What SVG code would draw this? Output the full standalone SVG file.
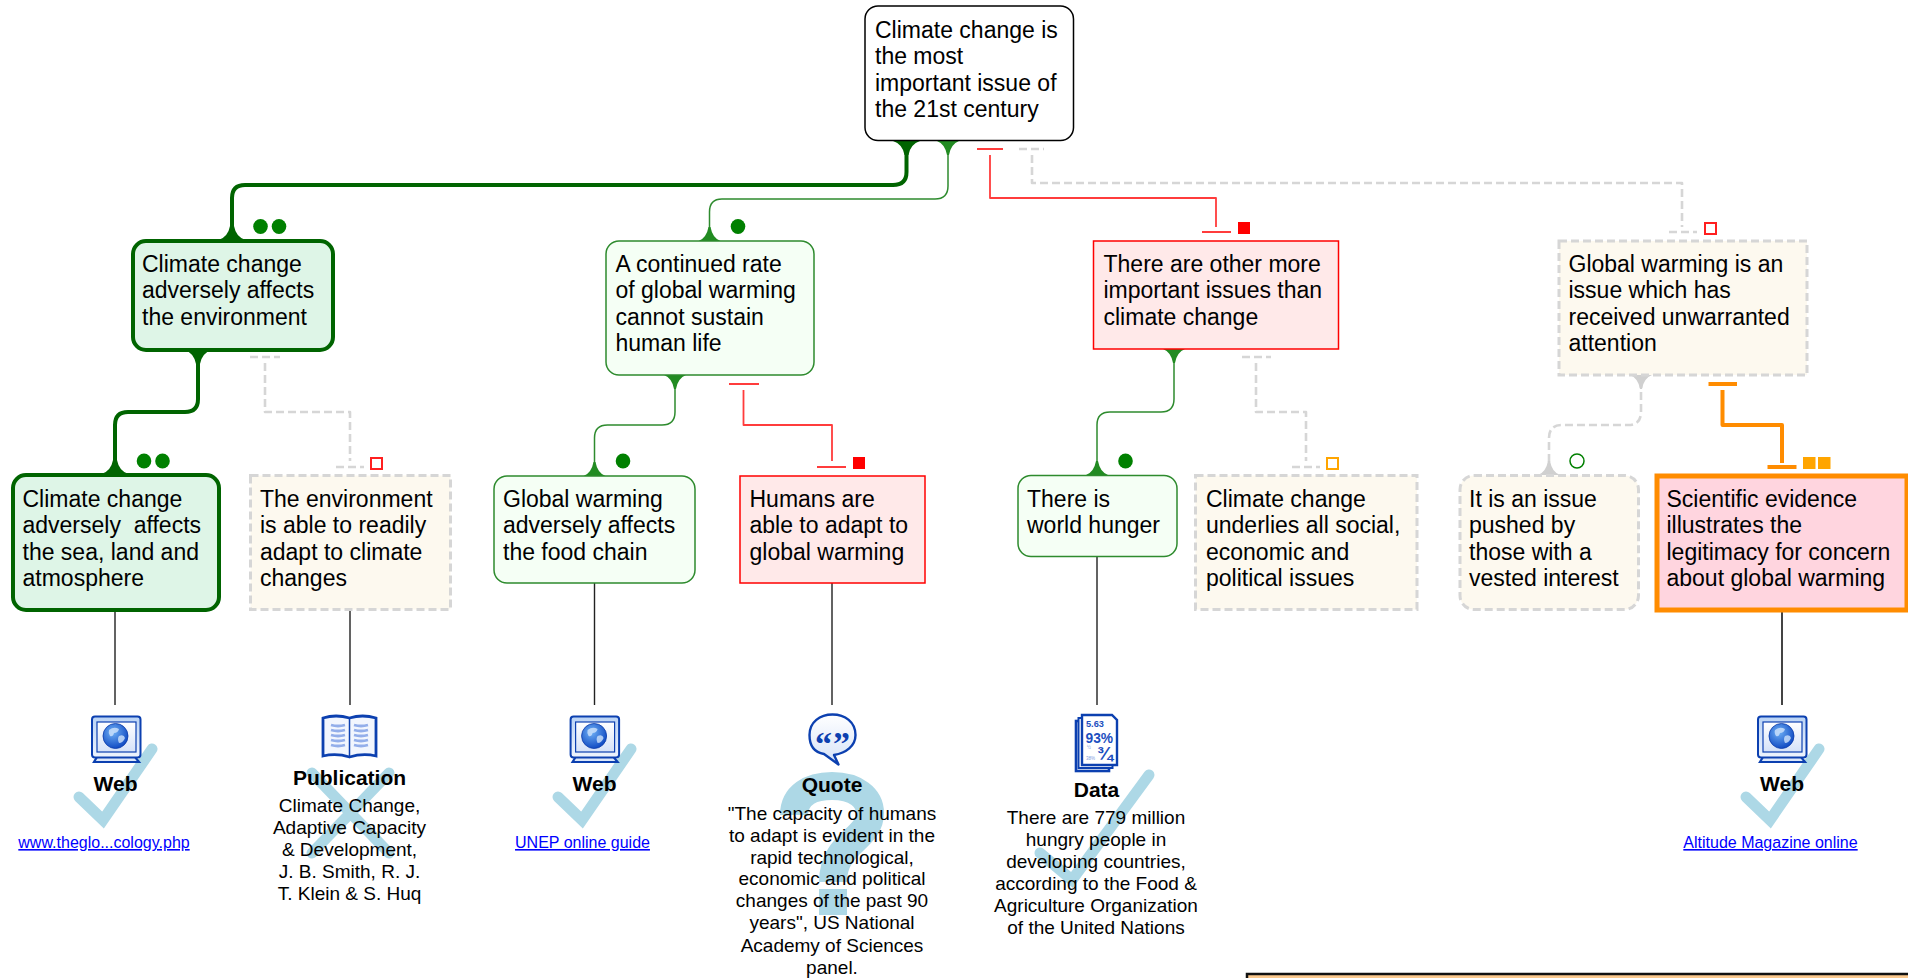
<svg xmlns="http://www.w3.org/2000/svg" width="1908" height="978" viewBox="0 0 1908 978">
<style>
text{font-family:"Liberation Sans",Arial,sans-serif;fill:#000}
.t{font-size:23px}
.b{font-size:21px;font-weight:700;text-anchor:middle}
.e{font-size:19px;text-anchor:middle}
.l{font-size:16px;text-anchor:middle;fill:#00f;text-decoration:underline}
.c{fill:none;stroke-linejoin:round}
.dg{stroke:#006400;stroke-width:4}
.g{stroke:#2e8b2e;stroke-width:1.5}
.r{stroke:#ff3c3c;stroke-width:1.8}
.o{stroke:#ff8c00;stroke-width:4}
.d{stroke:#d6d6d6;stroke-width:2.6;stroke-dasharray:8 4}
.k{stroke:#222;stroke-width:1.4}
.mk{fill:none;stroke:#add8e6;stroke-width:11}
.ic{stroke:#0c40b0;stroke-width:2}
.ff1{fill:#006400}.ff2{fill:#228b22}.ff3{fill:#d0d0d0}
.n1{fill:#def5e7;stroke:#006400;stroke-width:4}
.n2{fill:#f5fff5;stroke:#2e8b2e;stroke-width:1.5}
.n3{fill:#ffe9e9;stroke:#f00;stroke-width:1.5}
.n4{fill:#fdf9ef;stroke:#d6d6d6;stroke-width:3;stroke-dasharray:8 4}
.n5{fill:#ffd5df;stroke:#ff8c00;stroke-width:5}
.q{font-family:"Liberation Serif",serif;font-size:34px;font-weight:700;text-anchor:middle;fill:#0c40b0}
.s{font-weight:700;fill:#1d4fc0}
.v{fill:#7d9ce0}
</style>
<defs>
<path id="fl" d="M-11,0 Q-3,3 -1,14 L1,14 Q3,3 11,0Z"/>
<path id="flb" d="M-13.500,0 Q-4,3 -2,14 L2,14 Q4,3 13.500,0Z"/>
<linearGradient id="gr" x1="0" y1="0" x2="0" y2="1"><stop offset="0" stop-color="#b9d3f5"/><stop offset="1" stop-color="#eef4fd"/></linearGradient>
<linearGradient id="gb" x1="0" y1="0" x2="0" y2="1"><stop offset="0" stop-color="#fff"/><stop offset="1" stop-color="#d5e2f8"/></linearGradient>
<radialGradient id="gl" cx=".4" cy=".35" r=".7"><stop offset="0" stop-color="#6fb0f5"/><stop offset="1" stop-color="#0b45c0"/></radialGradient>
<g id="web">
<path d="M97,757 L135,757 L139,762 L94,762Z" fill="#dbe7fa" stroke="#0c40b0" stroke-width="2.200"/>
<rect x="92" y="716.500" width="48.500" height="41" rx="3" fill="url(#gr)" class="ic"/>
<rect x="97" y="722" width="39" height="30" fill="url(#gb)" stroke="#0c40b0" stroke-width="1.200"/>
<circle cx="115.500" cy="736" r="12.500" fill="url(#gl)" stroke="#0a3aa8" stroke-width=".8"/>
<path d="M109,730 q5,-4 10,-1 q-1,4 -5,4 q-1,4 -4,3 q-2,-3 -1,-6Z M119,736 q5,-2 6,2 q-2,5 -6,5 q-2,-4 0,-7Z" fill="#cfe3fb" opacity=".8"/>
</g>
</defs>

<g id="marks">
<path class="mk" d="M79,797 L103,820 L152,749" stroke-linecap="round"/>
<path class="mk" d="M558,797 L582,820 L631,749" stroke-linecap="round"/>
<path class="mk" d="M1746,797 L1770,820 L1819,749" stroke-linecap="round"/>
<path class="mk" d="M1040,853 L1072,880 L1149,775" stroke-linecap="round"/>
<path class="mk" d="M312,773 L389,853 M389,773 L312,853" stroke-linecap="round"/>
<path class="mk" style="stroke-width:28" d="M794,815 C794,796 810,786 832,786 C856,786 870,798 870,813 C870,840 833,842 833,882"/>
<rect x="819" y="889" width="28" height="26" fill="#add8e6"/>
</g>

<g id="connectors">
<path class="c dg" d="M906.500,150 V172 Q906.500,185 893,185 H245 Q232,185 232,198 V230"/>
<use href="#flb" x="906.500" y="141" class="ff1"/>
<use href="#flb" transform="translate(232,240) scale(1,-1)" class="ff1"/>
<path class="c g" d="M948,150 V186 Q948,199 935,199 H722 Q709.500,199 709.500,212 V232"/>
<use href="#fl" x="948" y="141" class="ff2"/>
<use href="#fl" transform="translate(709.500,241) scale(1,-1)" class="ff2"/>
<path class="c r" d="M977,149 H1003 M990,155 V198 H1216 V227 M1202,232 H1231"/>
<path class="c d" d="M1019,149 H1044 M1032,155 V183 H1682 V227 M1669,232 H1697"/>
<path class="c dg" d="M198,358 V399 Q198,412 185,412 H128 Q115,412 115,425 V464"/>
<use href="#flb" x="198" y="350" class="ff1"/>
<use href="#flb" transform="translate(115,474) scale(1,-1)" class="ff1"/>
<path class="c d" d="M250,357 H280 M265,363 V412 H350 V461 M336,467 H364"/>
<path class="c g" d="M675,380 V412 Q675,425 662,425 H607.500 Q594.500,425 594.500,438 V466"/>
<use href="#fl" x="675" y="375" class="ff2"/>
<use href="#fl" transform="translate(594.500,476) scale(1,-1)" class="ff2"/>
<path class="c r" d="M729,384 H759 M743.500,390 V425 H832 V461 M817,467 H846"/>
<path class="c g" d="M1174,355 V399 Q1174,412 1161,412 H1110 Q1097,412 1097,425 V466"/>
<use href="#fl" x="1174" y="349" class="ff2"/>
<use href="#fl" transform="translate(1097,475) scale(1,-1)" class="ff2"/>
<path class="c d" d="M1242,357 H1271 M1256,363 V412 H1306 V461 M1292,467 H1320"/>
<path class="c d" d="M1641,380 V412 Q1641,425 1628,425 H1562 Q1549,425 1549,438 V466"/>
<use href="#fl" x="1641" y="375" class="ff3"/>
<use href="#fl" transform="translate(1549,475) scale(1,-1)" class="ff3"/>
<path class="c o" d="M1708.500,384 H1737 M1722.500,390 V425 H1782 V463"/>
<path class="c o" d="M1767.500,467 H1796.500"/>
<path class="c k" d="M115,611 V705 M350,610 V705 M594.500,583 V705 M832,583 V705 M1097,556 V705"/>
<path class="c" stroke="#444" stroke-width="2" d="M1782,611 V705"/>
</g>

<g id="badges">
<g fill="#008000">
<ellipse cx="260.500" cy="226.500" rx="7.300" ry="7.500"/><ellipse cx="279" cy="226.500" rx="7.300" ry="7.500"/>
<ellipse cx="738" cy="226.500" rx="7.300" ry="7.500"/>
<ellipse cx="144" cy="461" rx="7.300" ry="7.500"/><ellipse cx="162.500" cy="461" rx="7.300" ry="7.500"/>
<ellipse cx="623" cy="461" rx="7.300" ry="7.500"/>
<ellipse cx="1125.500" cy="461" rx="7.300" ry="7.500"/>
</g>
<circle cx="1577" cy="461" r="7" fill="#fff" stroke="#008000" stroke-width="1.500"/>
<rect x="1238" y="222" width="12" height="12" fill="#f00"/>
<rect x="853" y="457" width="12" height="12" fill="#f00"/>
<rect x="1705" y="223" width="11" height="11" fill="#fff" stroke="#ff2020" stroke-width="2"/>
<rect x="371" y="458" width="11" height="11" fill="#fff" stroke="#ff2020" stroke-width="2"/>
<rect x="1327" y="458" width="11" height="11" fill="#fff" stroke="#ffa500" stroke-width="2"/>
<rect x="1803" y="457" width="12.500" height="12" fill="#ffa500"/>
<rect x="1818" y="457" width="12.500" height="12" fill="#ffa500"/>
</g>

<g id="root"><rect x="865" y="6" width="208.500" height="134.500" rx="13" fill="#fff" stroke="#000" stroke-width="1.500"/>
<text class="t"><tspan x="875" y="37.500">Climate change is</tspan><tspan x="875" y="64">the most</tspan><tspan x="875" y="90.500">important issue of</tspan><tspan x="875" y="117">the 21st century</tspan></text></g>

<g id="n-env"><rect class="n1" x="133" y="241" width="200" height="109" rx="13"/>
<text class="t"><tspan x="142" y="271.500">Climate change</tspan><tspan x="142" y="298">adversely affects</tspan><tspan x="142" y="324.500">the environment</tspan></text></g>

<g id="n-rate"><rect class="n2" x="606" y="241" width="208" height="134" rx="13"/>
<text class="t"><tspan x="615.500" y="271.500">A continued rate</tspan><tspan x="615.500" y="298">of global warming</tspan><tspan x="615.500" y="324.500">cannot sustain</tspan><tspan x="615.500" y="351">human life</tspan></text></g>

<g id="n-other"><rect class="n3" x="1093.500" y="241" width="245" height="108"/>
<text class="t"><tspan x="1103.500" y="271.500">There are other more</tspan><tspan x="1103.500" y="298">important issues than</tspan><tspan x="1103.500" y="324.500">climate change</tspan></text></g>

<g id="n-unwarranted"><rect class="n4" x="1559" y="241" width="248" height="134"/>
<text class="t"><tspan x="1568.500" y="271.500">Global warming is an</tspan><tspan x="1568.500" y="298">issue which has</tspan><tspan x="1568.500" y="324.500">received unwarranted</tspan><tspan x="1568.500" y="351">attention</tspan></text></g>

<g id="n-sea"><rect class="n1" x="13" y="475" width="206" height="135" rx="13"/>
<text class="t" xml:space="preserve"><tspan x="22.500" y="506.500">Climate change</tspan><tspan x="22.500" y="533">adversely  affects</tspan><tspan x="22.500" y="559.500">the sea, land and</tspan><tspan x="22.500" y="586">atmosphere</tspan></text></g>

<g id="n-readily"><rect class="n4" x="250.500" y="475.500" width="200" height="134"/>
<text class="t"><tspan x="260" y="506.500">The environment</tspan><tspan x="260" y="533">is able to readily</tspan><tspan x="260" y="559.500">adapt to climate</tspan><tspan x="260" y="586">changes</tspan></text></g>

<g id="n-food"><rect class="n2" x="494" y="476" width="201" height="107" rx="13"/>
<text class="t"><tspan x="503" y="506.500">Global warming</tspan><tspan x="503" y="533">adversely affects</tspan><tspan x="503" y="559.500">the food chain</tspan></text></g>

<g id="n-humans"><rect class="n3" x="740" y="476" width="185" height="107"/>
<text class="t"><tspan x="749.500" y="506.500">Humans are</tspan><tspan x="749.500" y="533">able to adapt to</tspan><tspan x="749.500" y="559.500">global warming</tspan></text></g>

<g id="n-hunger"><rect class="n2" x="1018" y="475.500" width="159" height="81" rx="13"/>
<text class="t"><tspan x="1027" y="506.500">There is</tspan><tspan x="1027" y="533">world hunger</tspan></text></g>

<g id="n-underlies"><rect class="n4" x="1195.500" y="475.500" width="221.500" height="134"/>
<text class="t"><tspan x="1206" y="506.500">Climate change</tspan><tspan x="1206" y="533">underlies all social,</tspan><tspan x="1206" y="559.500">economic and</tspan><tspan x="1206" y="586">political issues</tspan></text></g>

<g id="n-vested"><rect class="n4" x="1460" y="475.500" width="178.500" height="134" rx="14"/>
<text class="t"><tspan x="1469" y="506.500">It is an issue</tspan><tspan x="1469" y="533">pushed by</tspan><tspan x="1469" y="559.500">those with a</tspan><tspan x="1469" y="586">vested interest</tspan></text></g>

<g id="n-science"><rect class="n5" x="1657" y="476" width="250" height="134"/>
<text class="t"><tspan x="1666.500" y="506.500">Scientific evidence</tspan><tspan x="1666.500" y="533">illustrates the</tspan><tspan x="1666.500" y="559.500">legitimacy for concern</tspan><tspan x="1666.500" y="586">about global warming</tspan></text></g>

<g id="ev-web1"><use href="#web"/>
<text class="b" x="115.500" y="791">Web</text><text class="l" x="104" y="848">www.theglo...cology.php</text></g>

<g id="ev-pub">
<path d="M323,718 q13,-4 26.500,0 q13,-4 26.500,0 v38 q-13,-3 -26.500,1 q-13,-4 -26.500,-1Z" fill="#f2f6fe" stroke="#0c40b0" stroke-width="2.800"/>
<path d="M349.500,718 V757" stroke="#0c40b0" stroke-width="1.500"/>
<path d="M331,725 q7,2 14,0 M331,730 q7,2 14,0 M331,735 q7,2 14,0 M331,740 q7,2 14,0 M331,745 q7,2 14,0 M354,725 q7,2 14,0 M354,730 q7,2 14,0 M354,735 q7,2 14,0 M354,740 q7,2 14,0 M354,745 q7,2 14,0" fill="none" stroke="#93aeea" stroke-width="2.800"/>
<text class="b" x="349.500" y="785">Publication</text>
<text class="e"><tspan x="349.500" y="811.500">Climate Change,</tspan><tspan x="349.500" y="834">Adaptive Capacity</tspan><tspan x="349.500" y="856">&amp; Development,</tspan><tspan x="349.500" y="878">J. B. Smith, R. J.</tspan><tspan x="349.500" y="900">T. Klein &amp; S. Huq</tspan></text></g>

<g id="ev-web2"><use href="#web" x="478.600"/>
<text class="b" x="594.500" y="791">Web</text><text class="l" x="582.500" y="848">UNEP online guide</text></g>

<g id="ev-quote">
<path d="M824,754 C812,752 809.500,743 809.500,735 C809.500,722 820,714.500 832.500,714.500 C845,714.500 855.500,722 855.500,735 C855.500,746 846,753 834,755 L838.500,764.500 Z" fill="url(#gb)" stroke="#0c40b0" stroke-width="2.400" stroke-linejoin="round"/>
<text class="q" x="823.500" y="755">“</text><text class="q" x="841.500" y="755">”</text>
<text class="b" x="832" y="792">Quote</text>
<text class="e"><tspan x="832" y="819.500">"The capacity of humans</tspan><tspan x="832" y="841.500">to adapt is evident in the</tspan><tspan x="832" y="863.500">rapid technological,</tspan><tspan x="832" y="885">economic and political</tspan><tspan x="832" y="907">changes of the past 90</tspan><tspan x="832" y="929">years", US National</tspan><tspan x="832" y="951.500">Academy of Sciences</tspan><tspan x="832" y="973.500">panel.</tspan></text></g>

<g id="ev-data">
<rect x="1076" y="721" width="33" height="50" fill="#fff" stroke="#0c40b0" stroke-width="2.600"/>
<rect x="1078.500" y="718" width="34" height="50" fill="#fff" stroke="#0c40b0" stroke-width="2"/>
<path d="M1082,715 H1112 L1117,720 V765 H1082Z" fill="#fff" stroke="#0c40b0" stroke-width="2.400"/>
<text class="s" x="1086" y="726.500" font-size="9.200">5.63</text>
<text class="s" x="1085.500" y="743" font-size="13.800">93%</text>
<text class="s" x="1097" y="760" font-size="19">¾</text>
<text class="v" x="1087" y="749" font-size="4.500">½</text>
<text class="v" x="1086" y="760" font-size="4.500">38%</text>
<text class="b" x="1096.500" y="797">Data</text>
<text class="e"><tspan x="1096" y="824">There are 779 million</tspan><tspan x="1096" y="846">hungry people in</tspan><tspan x="1096" y="868">developing countries,</tspan><tspan x="1096" y="890">according to the Food &amp;</tspan><tspan x="1096" y="912">Agriculture Organization</tspan><tspan x="1096" y="934">of the United Nations</tspan></text></g>

<g id="ev-web3"><use href="#web" x="1666"/>
<text class="b" x="1782" y="791">Web</text><text class="l" x="1770.500" y="848">Altitude Magazine online</text></g>

<g id="panel"><rect x="1247" y="974" width="700" height="30" fill="#fbc98e" stroke="#111" stroke-width="2.500"/></g>
</svg>
